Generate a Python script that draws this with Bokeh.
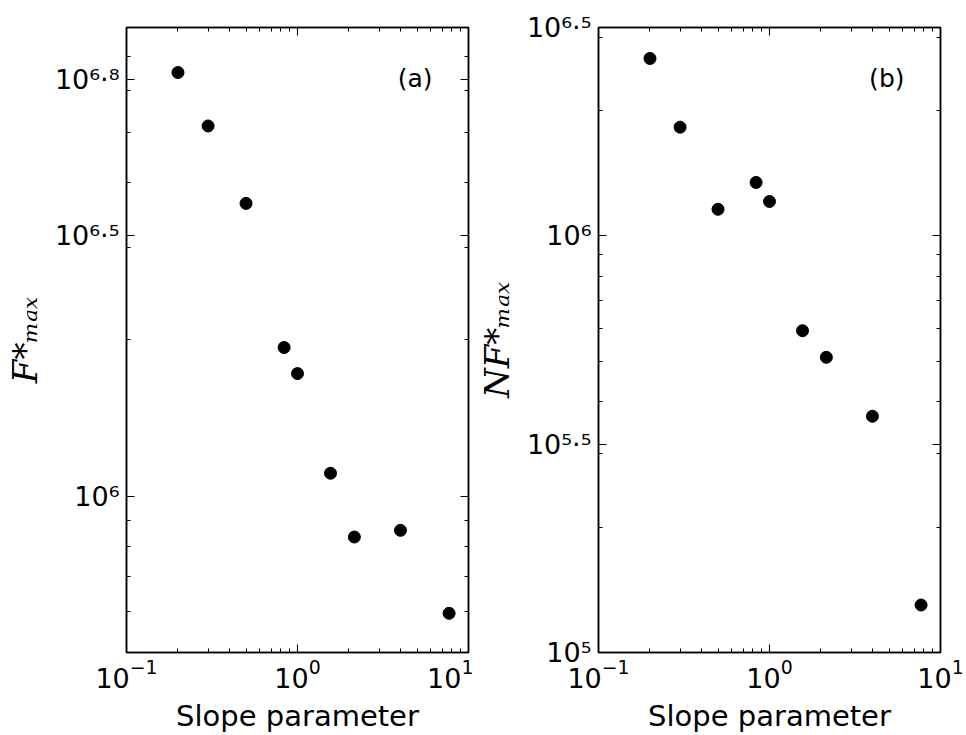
import math
from bokeh.plotting import figure
from bokeh.models import Range1d, FixedTicker, LogAxis, Label, CustomJSTickFormatter
from bokeh.layouts import row
from bokeh.embed import file_html
from bokeh.resources import INLINE

# ---------------- data ----------------
slope = [0.2, 0.3, 0.5, 0.835, 1.0, 1.56, 2.15, 4.0, 7.7]
f_max = [6.51e6, 5.14e6, 3.65e6, 1.93e6, 1.72e6, 1.107e6, 8.35e5, 8.6e5, 5.96e5]
nf_max = [2.665e6, 1.823e6, 1.158e6, 1.343e6, 1.209e6, 5.92e5, 5.11e5, 3.69e5, 1.30e5]

x_major = [0.1, 1.0, 10.0]
x_minor = [0.2, 0.3, 0.4, 0.5, 0.6, 0.7, 0.8, 0.9, 2, 3, 4, 5, 6, 7, 8, 9]

ya_ticks = [1e6, 10 ** 6.5, 10 ** 6.8]
ya_labels = ["10\u2076", "10\u2076\u00b7\u2075", "10\u2076\u00b7\u2078"]
ya_minor = [6e5, 7e5, 8e5, 9e5, 2e6, 3e6, 4e6, 5e6, 6e6, 7e6]
ya_range = (10 ** 5.7, 10 ** 6.9)

yb_ticks = [1e5, 10 ** 5.5, 1e6, 10 ** 6.5]
yb_labels = ["10\u2075", "10\u2075\u00b7\u2075", "10\u2076", "10\u2076\u00b7\u2075"]
yb_minor = [2e5, 3e5, 4e5, 5e5, 6e5, 7e5, 8e5, 9e5, 2e6, 3e6]
yb_range = (1e5, 10 ** 6.5)

x_label = "Slope parameter"
ya_title = "F*\u2098\u2090\u2093"
yb_title = "NF*\u2098\u2090\u2093"

FW, FH = 342, 625

LABEL_JS = """
let best = 0, bd = Infinity;
for (let i = 0; i < tvals.length; i++) {
  const d = Math.abs(Math.log10(tick) - Math.log10(tvals[i]));
  if (d < bd) { bd = d; best = i; }
}
return tlabels[best];
"""


def style_axis(ax, labels=True):
    ax.axis_line_color = "black"
    ax.axis_line_width = 1.5
    ax.major_tick_in = 8
    ax.major_tick_out = 0
    ax.minor_tick_in = 4
    ax.minor_tick_out = 0
    ax.major_tick_line_color = "black"
    ax.minor_tick_line_color = "black"
    ax.major_tick_line_width = 1
    ax.minor_tick_line_width = 1
    if not labels:
        ax.major_label_text_font_size = "1px"
        ax.major_label_text_alpha = 0
        ax.major_label_standoff = 0


def make_panel(y, y_range, y_ticks, y_labels, y_minor, tag, ytitle, left, right):
    p = figure(x_axis_type="log", y_axis_type="log",
               x_range=Range1d(0.1, 10), y_range=Range1d(*y_range),
               frame_width=FW, frame_height=FH,
               min_border_left=left, min_border_right=right,
               min_border_top=27, min_border_bottom=83,
               output_backend="svg", toolbar_location=None,
               background_fill_color="white", border_fill_color="white")
    p.grid.visible = False
    p.outline_line_color = "black"
    p.outline_line_width = 1.5

    xt = FixedTicker(ticks=x_major, minor_ticks=x_minor)
    yt = FixedTicker(ticks=y_ticks, minor_ticks=y_minor)

    xa = p.xaxis[0]
    xa.ticker = xt
    style_axis(xa)
    xa.major_label_text_font = "DejaVu Sans"
    xa.major_label_text_font_size = "27px"
    xa.major_label_text_color = "black"
    xa.major_label_standoff = 6
    xa.axis_label = x_label
    xa.axis_label_text_font = "DejaVu Sans"
    xa.axis_label_text_font_size = "29px"
    xa.axis_label_text_font_style = "normal"
    xa.axis_label_text_color = "black"
    xa.axis_label_standoff = 8

    ya = p.yaxis[0]
    ya.ticker = yt
    style_axis(ya)
    ya.formatter = CustomJSTickFormatter(args=dict(tvals=y_ticks, tlabels=y_labels), code=LABEL_JS)
    ya.major_label_text_font = "DejaVu Sans"
    ya.major_label_text_font_size = "27px"
    ya.major_label_text_color = "black"
    ya.major_label_standoff = 7
    ya.axis_label = ytitle
    ya.axis_label_text_font = "DejaVu Serif"
    ya.axis_label_text_font_style = "italic"
    ya.axis_label_text_font_size = "34px"
    ya.axis_label_text_line_height = 1.0
    ya.axis_label_text_color = "black"
    ya.axis_label_standoff = 7

    top = LogAxis(ticker=xt)
    style_axis(top, labels=False)
    p.add_layout(top, "above")
    rgt = LogAxis(ticker=yt)
    style_axis(rgt, labels=False)
    p.add_layout(rgt, "right")

    p.add_layout(Label(x=306, y=574.5, x_units="screen", y_units="screen", text=tag,
                       text_align="right", text_baseline="alphabetic",
                       text_font="DejaVu Sans", text_font_size="25px", text_color="black"))

    p.scatter(slope, y, marker="circle", size=12, fill_color="black", line_color="black")
    return p


pa = make_panel(f_max, ya_range, ya_ticks, ya_labels, ya_minor, "(a)", ya_title, 126, 5)
pb = make_panel(nf_max, yb_range, yb_ticks, yb_labels, yb_minor, "(b)", yb_title, 124, 27)

layout = row(pa, pb)
open("out.html", "w").write(file_html(layout, INLINE))
